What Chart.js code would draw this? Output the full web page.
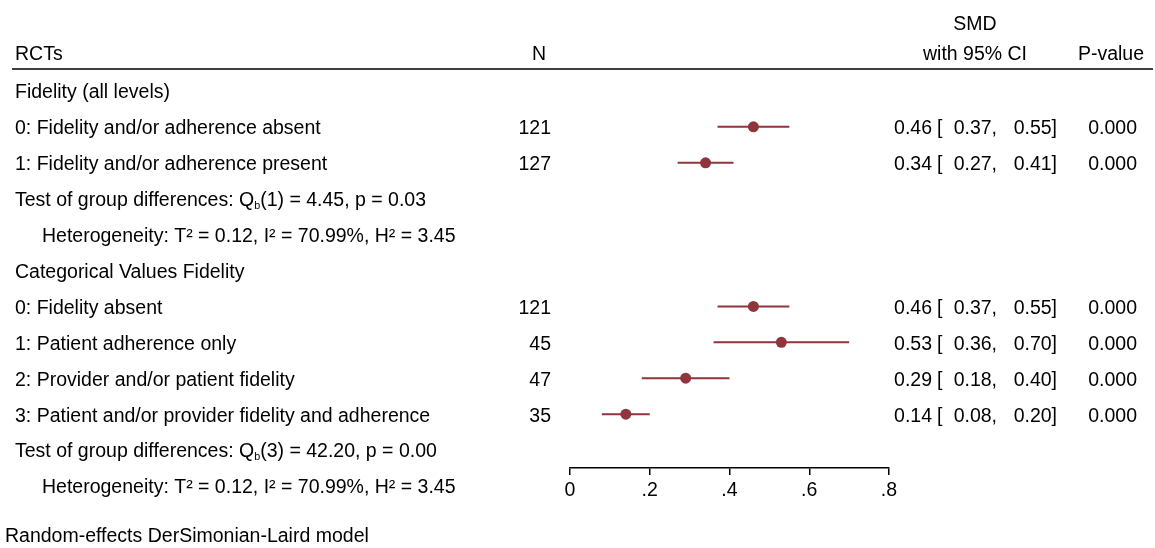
<!DOCTYPE html>
<html>
<head>
<meta charset="utf-8">
<script src="https://cdn.jsdelivr.net/npm/chart.js@4/dist/chart.umd.min.js"></script>
<style>
  html, body { margin: 0; padding: 0; background: #fff; }
  #wrap { position: relative; width: 1155px; height: 548px; }
</style>
</head>
<body>
<div id="wrap"><canvas id="c"></canvas></div>
<script>
// ---- data ----
const groupTitles = ["Fidelity (all levels)", "Categorical Values Fidelity"];
const groupTitleRows = [0, 5];
const studyLabels = [
  "0: Fidelity and/or adherence absent",
  "1: Fidelity and/or adherence present",
  "0: Fidelity absent",
  "1: Patient adherence only",
  "2: Provider and/or patient fidelity",
  "3: Patient and/or provider fidelity and adherence"
];
const studyRows = [1, 2, 6, 7, 8, 9];
const nValues = [121, 127, 121, 45, 47, 35];
const smd = [0.46, 0.34, 0.46, 0.53, 0.29, 0.14];
const ciLow = [0.37, 0.27, 0.37, 0.36, 0.18, 0.08];
const ciHigh = [0.55, 0.41, 0.55, 0.70, 0.40, 0.20];
const pValues = ["0.000", "0.000", "0.000", "0.000", "0.000", "0.000"];
const testRows = [3, 10];
const testDf = [1, 3];
const testQ = ["4.45", "42.20"];
const testP = ["0.03", "0.00"];
const hetRows = [4, 11];
const hetText = ["Heterogeneity: T\u00B2 = 0.12, I\u00B2 = 70.99%, H\u00B2 = 3.45",
                 "Heterogeneity: T\u00B2 = 0.12, I\u00B2 = 70.99%, H\u00B2 = 3.45"];
const xTicks = [0, 0.2, 0.4, 0.6, 0.8];
const xTickLabels = ["0", ".2", ".4", ".6", ".8"];
const headers = { label: "RCTs", n: "N", smd1: "SMD", smd2: "with 95% CI", p: "P-value" };
const footnote = "Random-effects DerSimonian-Laird model";

// ---- styling ----
const FONT = '"Liberation Sans", Helvetica, Arial, sans-serif';
const FS = 19.5;
const MARK = '#90353B';
const TXT_DY = 2;

const datasets = [];
datasets.push({
  type: 'scatter',
  label: 'SMD',
  data: smd.map((v, i) => ({ x: v, y: studyRows[i] })),
  pointRadius: 5.5,
  pointBackgroundColor: MARK,
  pointBorderColor: MARK,
  pointBorderWidth: 0,
  showLine: false,
  order: 0
});
smd.forEach((v, i) => {
  datasets.push({
    type: 'line',
    label: 'CI ' + i,
    data: [{ x: ciLow[i], y: studyRows[i] }, { x: ciHigh[i], y: studyRows[i] }],
    borderColor: MARK,
    borderWidth: 2,
    pointRadius: 0,
    fill: false,
    order: 1
  });
});

function drawRich(ctx, x, y, parts) {
  let cx = x;
  parts.forEach(p => {
    if (p.sub) {
      ctx.font = (FS * 0.55) + 'px ' + FONT;
      ctx.fillText(p.t, cx, y + 5);
      cx += ctx.measureText(p.t).width;
    } else {
      ctx.font = FS + 'px ' + FONT;
      ctx.fillText(p.t, cx, y);
      cx += ctx.measureText(p.t).width;
    }
  });
  ctx.font = FS + 'px ' + FONT;
}

const textPlugin = {
  id: 'forestText',
  afterDraw(chart) {
    const ctx = chart.ctx;
    const ys = chart.scales.y;
    const Y = r => ys.getPixelForValue(r) + TXT_DY;
    ctx.save();
    ctx.fillStyle = '#000';
    ctx.textBaseline = 'middle';
    ctx.font = FS + 'px ' + FONT;
    // headers
    ctx.textAlign = 'left';
    ctx.fillText(headers.label, 15, 55);
    ctx.textAlign = 'center';
    ctx.fillText(headers.n, 539, 55);
    ctx.fillText(headers.smd1, 975, 25);
    ctx.fillText(headers.smd2, 975, 55);
    ctx.fillText(headers.p, 1111, 55);
    ctx.strokeStyle = '#000';
    ctx.lineWidth = 1.5;
    ctx.beginPath();
    ctx.moveTo(12, 69);
    ctx.lineTo(1153, 69);
    ctx.stroke();
    // group titles
    ctx.textAlign = 'left';
    groupTitles.forEach((t, i) => ctx.fillText(t, 15, Y(groupTitleRows[i])));
    // studies
    studyLabels.forEach((t, i) => {
      const y = Y(studyRows[i]);
      ctx.textAlign = 'left';
      ctx.fillText(t, 15, y);
      ctx.textAlign = 'right';
      ctx.fillText(String(nValues[i]), 551, y);
      ctx.fillText(smd[i].toFixed(2), 932, y);
      ctx.textAlign = 'left';
      ctx.fillText('[', 937, y);
      ctx.textAlign = 'right';
      ctx.fillText(ciLow[i].toFixed(2) + ',', 997, y);
      ctx.fillText(ciHigh[i].toFixed(2) + ']', 1057, y);
      ctx.fillText(pValues[i], 1137, y);
    });
    // tests
    ctx.textAlign = 'left';
    testRows.forEach((r, i) => {
      drawRich(ctx, 15, Y(r), [
        { t: 'Test of group differences: Q' },
        { t: 'b', sub: true },
        { t: '(' + testDf[i] + ') = ' + testQ[i] + ', p = ' + testP[i] }
      ]);
    });
    hetRows.forEach((r, i) => ctx.fillText(hetText[i], 42, Y(r)));
    ctx.fillText(footnote, 5, 537);
    ctx.restore();
  }
};

new Chart(document.getElementById('c'), {
  data: { datasets },
  options: {
    responsive: true,
    maintainAspectRatio: false,
    animation: false,
    devicePixelRatio: 1,
    layout: { padding: { left: 570, right: 266, top: 73, bottom: 40 } },
    plugins: { legend: { display: false }, tooltip: { enabled: false } },
    scales: {
      x: {
        type: 'linear',
        min: 0, max: 0.8,
        afterBuildTicks: s => { s.ticks = xTicks.map(v => ({ value: v })); },
        afterFit: s => { s.height = 40; },
        ticks: {
          color: '#000',
          font: { family: FONT, size: FS },
          padding: 4,
          maxRotation: 0,
          autoSkip: false,
          callback: v => {
            const i = xTicks.findIndex(t => Math.abs(t - v) < 1e-9);
            return i >= 0 ? xTickLabels[i] : '';
          }
        },
        grid: { display: true, drawOnChartArea: false, drawTicks: true, tickLength: 7, color: '#000', lineWidth: 1.5 },
        border: { display: true, color: '#000', width: 1.5 }
      },
      y: {
        type: 'linear',
        display: false,
        min: -0.5, max: 10.5,
        reverse: true
      }
    }
  },
  plugins: [textPlugin]
});
</script>
</body>
</html>
